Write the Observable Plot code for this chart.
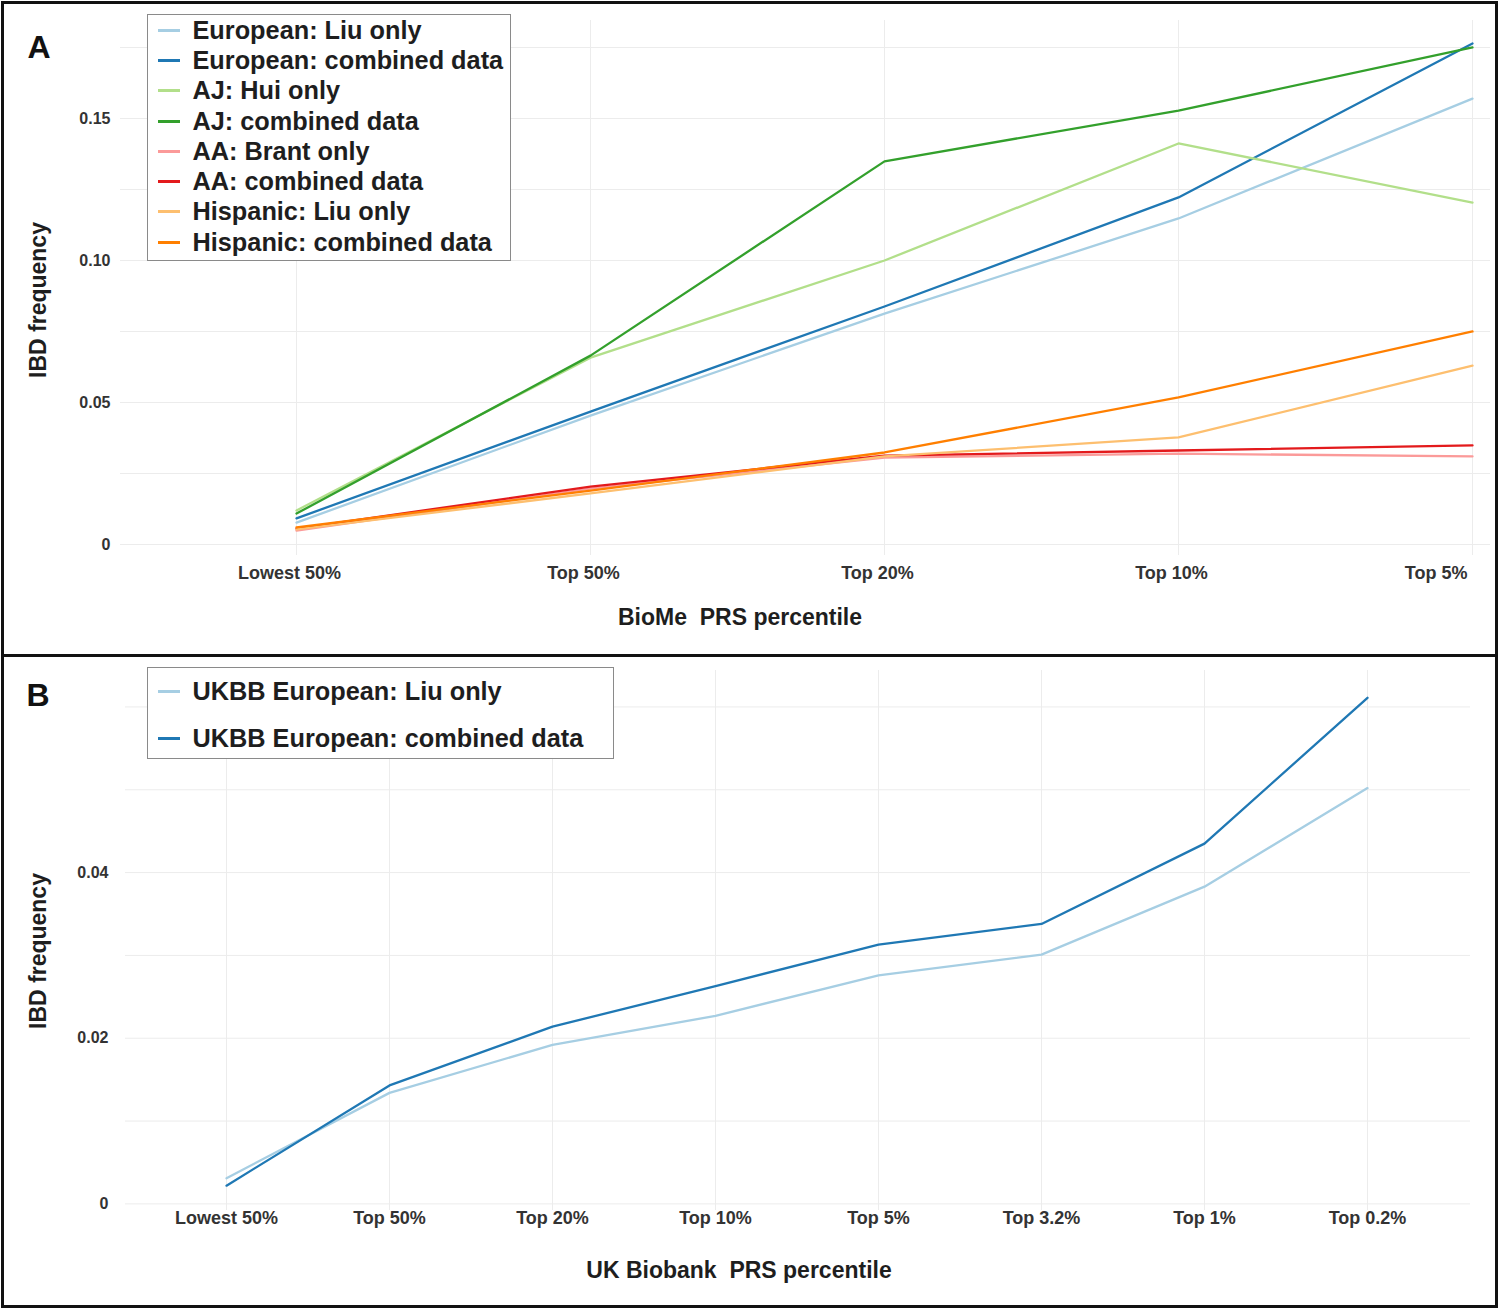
<!DOCTYPE html>
<html><head><meta charset="utf-8">
<script src="https://cdn.jsdelivr.net/npm/d3@7"></script>
<script src="https://cdn.jsdelivr.net/npm/@observablehq/plot@0.6"></script>
<style>
body{margin:0;background:#fff;}
#page{position:relative;width:1500px;height:1310px;overflow:hidden;background:#fff;font-family:"Liberation Sans",Arial,sans-serif;color:#1a1a1a;}
.abs{position:absolute;}
.title{position:absolute;font-weight:bold;font-size:23px;white-space:pre;transform:translate(-50%,-50%);color:#1e1e1e;}
.ytitle{position:absolute;font-weight:bold;font-size:23px;white-space:pre;transform:translate(-50%,-50%) rotate(-90deg);color:#1e1e1e;}
.letter{position:absolute;font-weight:bold;font-size:32px;transform:translate(-50%,-50%);color:#111;}
.legend{position:absolute;background:#fff;border:1.5px solid #8a8a8a;box-sizing:border-box;}
.row{display:flex;align-items:center;font-weight:bold;font-size:25.3px;white-space:nowrap;color:#1e1e1e;}
.sw{width:22px;height:3px;margin-left:9.5px;margin-right:13px;flex:none;}
</style></head>
<body>
<div id="page">
  <div id="plotA" class="abs" style="left:0;top:0"></div>
  <div id="plotB" class="abs" style="left:0;top:657px"></div>
  <div class="abs" style="left:1px;top:1px;width:1497px;height:1307px;border:3px solid #111;box-sizing:border-box;"></div>
  <div class="abs" style="left:1px;top:654px;width:1497px;height:3px;background:#111;"></div>
  <div class="letter" style="left:39px;top:47px">A</div>
  <div class="letter" style="left:38px;top:695px">B</div>
  <div class="ytitle" style="left:38px;top:300px">IBD frequency</div>
  <div class="ytitle" style="left:38px;top:951px">IBD frequency</div>
  <div class="title" style="left:740px;top:617px">BioMe  PRS percentile</div>
  <div class="title" style="left:739px;top:1270px">UK Biobank  PRS percentile</div>
  <div id="legendA" class="legend" style="left:147px;top:14px;width:364px;height:247px;"></div>
  <div id="legendB" class="legend" style="left:147px;top:667px;width:467px;height:92px;"></div>
</div>
<script>
// ---------- Panel A data (BioMe) ----------
const catsA = ["Lowest 50%", "Top 50%", "Top 20%", "Top 10%", "Top 5%"];
const seriesA = [
  "European: Liu only", "European: combined data",
  "AJ: Hui only", "AJ: combined data",
  "AA: Brant only", "AA: combined data",
  "Hispanic: Liu only", "Hispanic: combined data"
];
const eurLiu   = [0.0077, 0.0454, 0.0813, 0.1148, 0.1570];
const eurComb  = [0.0092, 0.0468, 0.0838, 0.1222, 0.1764];
const ajHui    = [0.0120, 0.0658, 0.1000, 0.1412, 0.1204];
const ajComb   = [0.0109, 0.0665, 0.1349, 0.1528, 0.1750];
const aaBrant  = [0.0049, 0.0197, 0.0306, 0.0320, 0.0310];
const aaComb   = [0.0056, 0.0204, 0.0313, 0.0331, 0.0349];
const hispLiu  = [0.0053, 0.0180, 0.0310, 0.0377, 0.0630];
const hispComb = [0.0060, 0.0190, 0.0324, 0.0518, 0.0750];
const yTicksA = [0, 0.05, 0.10, 0.15];
const yGridA = [0, 0.025, 0.05, 0.075, 0.10, 0.125, 0.15, 0.175];

// ---------- Panel B data (UK Biobank) ----------
const catsB = ["Lowest 50%", "Top 50%", "Top 20%", "Top 10%", "Top 5%", "Top 3.2%", "Top 1%", "Top 0.2%"];
const seriesB = ["UKBB European: Liu only", "UKBB European: combined data"];
const ukLiu  = [0.0031, 0.0134, 0.0192, 0.0227, 0.0276, 0.0301, 0.0383, 0.0502];
const ukComb = [0.0022, 0.0143, 0.0214, 0.0263, 0.0313, 0.0338, 0.0435, 0.0611];
const yTicksB = [0, 0.02, 0.04];
const yGridB = [0, 0.01, 0.02, 0.03, 0.04, 0.05, 0.06];

const colorsA = ["#a6cee3", "#1f78b4", "#b2df8a", "#33a02c", "#fb9a99", "#e31a1c", "#fdbf6f", "#ff7f00"];
const colorsB = ["#a6cee3", "#1f78b4"];

const valuesA = [eurLiu, eurComb, ajHui, ajComb, aaBrant, aaComb, hispLiu, hispComb];
const tableA = seriesA.flatMap((s, i) => catsA.map((c, j) => ({series: s, cat: c, value: valuesA[i][j]})));
const valuesB = [ukLiu, ukComb];
const tableB = seriesB.flatMap((s, i) => catsB.map((c, j) => ({series: s, cat: c, value: valuesB[i][j]})));

const fmt = d => d === 0 ? "0" : d.toFixed(2);
const font = "Liberation Sans, Arial, sans-serif";
const gridColor = "#ececec";

const plotA = Plot.plot({
  width: 1500, height: 655,
  marginLeft: 120, marginRight: 10, marginTop: 20, marginBottom: 100,
  style: {fontFamily: font, background: "transparent", overflow: "visible"},
  x: {type: "point", domain: catsA, range: [295, 1473], padding: 0, label: null},
  y: {domain: [-0.00387, 0.1845], label: null},
  color: {domain: seriesA, range: colorsA},
  marks: [
    Plot.gridY(yGridA, {stroke: gridColor, strokeOpacity: 1}),
    Plot.gridX(catsA, {stroke: gridColor, strokeOpacity: 1}),
    Plot.axisY(yTicksA, {tickSize: 0, tickPadding: 10, tickFormat: fmt, fontSize: 16, fontWeight: "bold", color: "#333", label: null}),
    Plot.axisX(catsA.slice(0, 4), {tickSize: 0, tickPadding: 11, fontSize: 18, fontWeight: "bold", color: "#333", label: null, dx: -7}),
    Plot.axisX(catsA.slice(4), {tickSize: 0, tickPadding: 11, fontSize: 18, fontWeight: "bold", color: "#333", label: null, textAnchor: "end", dx: -5}),
    Plot.line(tableA, {x: "cat", y: "value", z: "series", stroke: "series", strokeWidth: 2.3})
  ]
});
document.getElementById("plotA").appendChild(plotA);

const plotB = Plot.plot({
  width: 1500, height: 650,
  marginLeft: 125, marginRight: 30, marginTop: 13, marginBottom: 97,
  style: {fontFamily: font, background: "transparent", overflow: "visible"},
  x: {type: "point", domain: catsB, range: [225, 1367], padding: 0, label: null},
  y: {domain: [-0.0008, 0.0644], label: null},
  color: {domain: seriesB, range: colorsB},
  marks: [
    Plot.gridY(yGridB, {stroke: gridColor, strokeOpacity: 1}),
    Plot.gridX(catsB, {stroke: gridColor, strokeOpacity: 1}),
    Plot.axisY(yTicksB, {tickSize: 0, tickPadding: 17, tickFormat: fmt, fontSize: 16, fontWeight: "bold", color: "#333", label: null}),
    Plot.axisX(catsB, {tickSize: 0, tickPadding: 1, fontSize: 18, fontWeight: "bold", color: "#333", label: null}),
    Plot.line(tableB, {x: "cat", y: "value", z: "series", stroke: "series", strokeWidth: 2.3})
  ]
});
document.getElementById("plotB").appendChild(plotB);

function legend(id, names, colors, rowH) {
  const box = document.getElementById(id);
  names.forEach((n, i) => {
    const r = document.createElement("div");
    r.className = "row";
    r.style.height = rowH + "px";
    const sw = document.createElement("span");
    sw.className = "sw";
    sw.style.background = colors[i];
    const t = document.createElement("span");
    t.textContent = n;
    r.appendChild(sw); r.appendChild(t);
    box.appendChild(r);
  });
}
legend("legendA", seriesA, colorsA, 30.3);
legend("legendB", seriesB, colorsB, 47);
</script>
</body></html>
